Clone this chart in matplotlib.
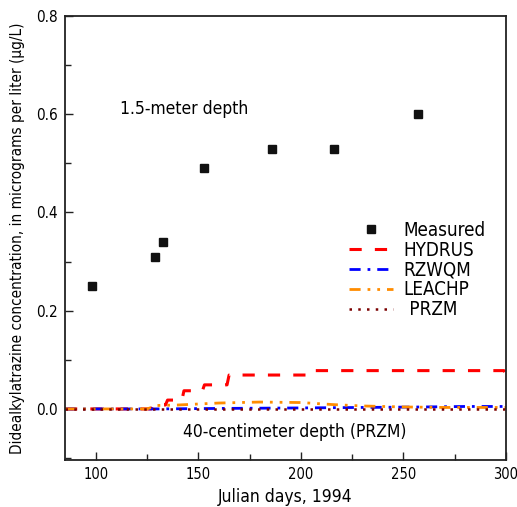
import matplotlib
matplotlib.use("Agg")
import matplotlib.pyplot as plt
from matplotlib.ticker import MultipleLocator

plt.rcParams['font.family'] = ['DejaVu Sans']
plt.rcParams['font.stretch'] = 'condensed'

# Measured 1.5-meter depth
meas_day = [98, 129, 133, 153, 186, 216, 257]
meas_conc = [0.25, 0.31, 0.34, 0.49, 0.53, 0.53, 0.60]

# HYDRUS (40-cm depth), step-like curve
hyd_day = [85, 127, 128, 134, 135, 142, 143, 152, 153, 164, 165, 204, 205, 299, 300]
hyd_conc = [0.0, 0.0, 0.008, 0.008, 0.018, 0.018, 0.037, 0.037, 0.049, 0.049, 0.069, 0.069, 0.078, 0.078, 0.072]

# RZWQM
rzw_day = [85, 130, 160, 200, 230, 260, 280, 300]
rzw_conc = [0.0, 0.0, 0.001, 0.002, 0.003, 0.004, 0.005, 0.005]

# LEACHP
lea_day = [85, 125, 130, 140, 160, 180, 200, 215, 230, 250, 270, 300]
lea_conc = [0.0, 0.0, 0.007, 0.008, 0.012, 0.014, 0.013, 0.009, 0.006, 0.004, 0.003, 0.003]

# PRZM
prz_day = [85, 300]
prz_conc = [0.0, 0.0]

fig = plt.figure(figsize=(5.17, 5.07), dpi=100)
ax = fig.add_axes([0.1257, 0.0927, 0.853, 0.8757])

ax.plot(meas_day, meas_conc, linestyle='none', marker='s', color='#111111', markersize=6, label='Measured')
ax.plot(hyd_day, hyd_conc, color='#ff0000', linestyle=(0, (4, 4.3)), linewidth=2.2, label='HYDRUS')
ax.plot(rzw_day, rzw_conc, color='#0000ff', linestyle=(0, (4, 2.5, 1, 2.5)), linewidth=2.0, label='RZWQM')
ax.plot(lea_day, lea_conc, color='#ff8c00', linestyle=(0, (4, 2.5, 1, 2.5, 1, 2.5)), linewidth=2.0, label='LEACHP')
ax.plot(prz_day, prz_conc, color='#7a0000', linestyle=(0, (1, 2.5)), linewidth=1.8, label=' PRZM')

ax.set_xlim(85, 300)
ax.set_ylim(-0.104, 0.8)
ax.xaxis.set_major_locator(MultipleLocator(50))
ax.xaxis.set_minor_locator(MultipleLocator(25))
ax.yaxis.set_minor_locator(MultipleLocator(0.1))
ax.set_yticks([0.0, 0.2, 0.4, 0.6, 0.8])
ax.set_yticklabels(['0.0', '0.2', '0.4', '0.6', '0.8'])
ax.tick_params(which='major', direction='in', length=6, width=1, labelsize=10.5, color='#222222', pad=5)
ax.tick_params(axis='y', which='major', labelsize=11)
ax.tick_params(which='minor', direction='in', length=4, width=1, color='#222222')
for s in ax.spines.values():
    s.set_linewidth(1.3)
    s.set_color('#222222')

ax.set_xlabel('Julian days, 1994', fontsize=12.5, labelpad=4)
ax.set_ylabel('Didealkylatrazine concentration, in micrograms per liter (µg/L)', fontsize=11, labelpad=8)

ax.text(112, 0.61, '1.5-meter depth', fontsize=12.5, va='center', ha='left')
ax.text(197, -0.046, '40-centimeter depth (PRZM)', fontsize=12.5, va='center', ha='center')

leg = ax.legend(loc='upper left', bbox_to_anchor=(0.626, 0.556), frameon=False, fontsize=13.5,
                handlelength=2.35, handletextpad=0.6, labelspacing=0.05, borderaxespad=0)

fig.savefig('out.png', dpi=100)
